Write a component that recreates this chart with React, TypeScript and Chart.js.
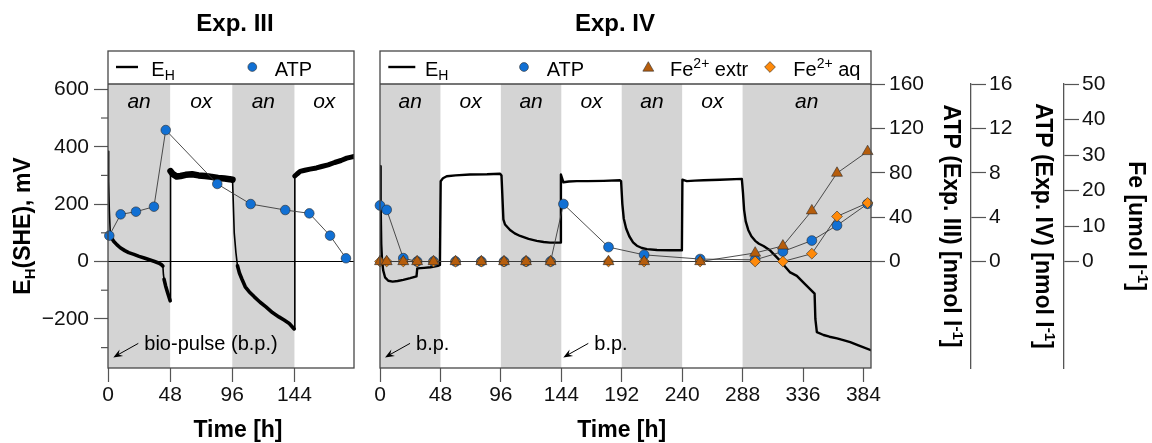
import React, { useEffect, useRef } from 'react';
import { Chart, registerables } from 'chart.js';

Chart.register(...registerables);

const FONT = "'Liberation Sans', Arial, Helvetica, sans-serif";
Chart.defaults.font.family = FONT;
Chart.defaults.color = '#111';

// ---------------- data: Exp. III ----------------
const timeTicksIII = [0, 48, 96, 144];
const phaseBoundsIII = [0, 48, 96, 144, 190];
const phaseNamesIII = ['an', 'ox', 'an', 'ox'];
const ehTimeIII = [0, 0.5, 1.0, 1.8, 3, 4.5, 7, 9.5, 13, 16, 20, 24, 28, 32, 36, 39, 41, 42.4, 42.8, 43.3, 44.5, 46, 48.0, 48.3, 50, 53, 56, 60, 65, 70, 75, 80, 85, 90, 94, 96.2, 97.5, 98.8, 100, 101.5, 103.4, 106, 109, 113, 117.5, 122, 127, 132, 136, 140, 143.8, 144.3, 146, 148.4, 152, 156, 161, 165, 170, 175, 180, 184.4, 187, 190];
const ehValueIII = [384, 280, 180, 95, 80, 70, 58, 48, 38, 31, 25, 18, 12, 6, 0, -5, -10, -16, -45, -62, -85, -108, -137, 315, 305, 296, 298, 302, 304, 300, 298, 295, 291, 289, 287, 285, 100, 31, -15, -40, -61, -88, -105, -123, -142, -158, -178, -193, -204, -216, -235, 298, 305, 314, 318, 322, 326, 331, 337, 345, 352, 360, 363, 366];
const atpTimeIII = [1.0, 9.8, 21.6, 35.5, 44.6, 84.4, 110.2, 136.9, 155.5, 171.5, 183.8];
const atpValueIII = [23.3, 42.5, 44.9, 49.4, 118.5, 69.9, 51.8, 46.4, 43.4, 23.3, 2.9];
const bioPulseIII = [4.1];

// ---------------- data: Exp. IV ----------------
const timeTicksIV = [0, 48, 96, 144, 192, 240, 288, 336, 384];
const phaseBoundsIV = [0, 48, 96, 144, 192, 240, 288, 390];
const phaseNamesIV = ['an', 'ox', 'an', 'ox', 'an', 'ox', 'an'];
const ehTimeIV = [0, 0.5, 1.0, 1.6, 2.5, 4, 6.6, 10, 14, 18.5, 24, 29, 29.6, 35, 40, 46, 47.6, 48.2, 50, 53, 60, 71.5, 85, 95.4, 96.5, 98, 99.3, 103.3, 107, 111.3, 118, 124.5, 130, 135, 143.2, 143.7, 145.7, 150, 156.3, 165, 177.5, 190.7, 191.5, 192.5, 193.6, 195.5, 198, 201, 204, 208, 212, 220, 230.5, 239.8, 240.2, 243.7, 250, 257, 270, 287.4, 288.3, 289.2, 290.5, 292.5, 295, 298, 301, 304.6, 310, 317.9, 325.8, 331.1, 337, 343, 345.2, 345.8, 347, 352.3, 357, 363, 368, 373.5, 380, 390];
const ehValueIV = [332, 200, 60, 5, -30, -55, -67, -70, -68, -64, -58, -52, -24, -22, -20, -15, -12, 280, 290, 297, 300, 303, 304, 306, 300, 147, 129, 110, 98, 89, 79, 72, 68, 66, 66, 303, 276, 279, 280, 280, 281, 283, 280, 200, 150, 115, 88, 67, 55, 47, 43, 40, 39, 39, 285, 280, 282, 283, 285, 288, 240, 180, 140, 110, 88, 72, 62, 54, 38, 2, -38, -50, -76, -102, -112, -200, -246, -256, -262, -268, -274, -281, -292, -309];
const atpTimeIV = [0, 5.3, 18.5, 29.5, 42.5, 60, 80.5, 98.5, 116, 135.5, 145.7, 181.5, 209.8, 254.3, 298, 320, 343, 363, 387.3];
const atpValueIV = [5.05, 4.66, 0.3, 0, 0, 0, 0, 0, 0, 0, 5.18, 1.3, 0.6, 0.22, 0.15, 0.9, 1.89, 3.25, 5.2];
const feTimeIV = [0, 5.3, 18.5, 29.5, 42.5, 60, 80.5, 98.5, 116, 135.5, 181.5, 209.8, 254.3, 298, 320, 343, 363, 387.3];
const feExtrIV = [0, 0, 0, 0, 0, 0, 0, 0, 0, 0, 0, 0, 0, 2.4, 4.4, 14.3, 24.9, 31.0];
const feAqIV = [0, 0, 0, 0, 0, 0, 0, 0, 0, 0, 0, 0, 0, 0, 0, 2.2, 12.7, 16.5];
const bioPulseIV = [4.0, 145.6];

// ---------------- axis ticks ----------------
const ehTicks = [-200, 0, 200, 400, 600];
const ehMinorTicks = [-300, -100, 100, 300, 500];
const atp3Ticks = [0, 40, 80, 120, 160];
const atp4Ticks = [0, 4, 8, 12, 16];
const feTicks = [0, 10, 20, 30, 40, 50];

// ---------------- style ----------------
const EH_MIN = -371, EH_MAX = 618.5;
const BP_LEVEL = -334;
const BLUE = '#1170d4';
const BROWN = '#b65d0c';
const ORANGE = '#ff8a0a';
const SHADE = '#d4d4d4';
const AXIS = '#555555';
const FRAME = '#474747';
const MARK_EDGE = '#2b2b2b';
const LEGEND_TOP = 51;

type Run = { t: string; size: number; bold?: boolean; italic?: boolean; dy?: number };

function fontOf(r: Run) {
  return `${r.italic ? 'italic ' : ''}${r.bold ? 'bold ' : ''}${r.size}px ${FONT}`;
}

function drawRich(ctx: CanvasRenderingContext2D, runs: Run[], x: number, y: number, align: 'left' | 'center', rotation = 0, color = '#000') {
  ctx.save();
  ctx.translate(x, y);
  if (rotation) ctx.rotate(rotation);
  ctx.textAlign = 'left';
  ctx.textBaseline = 'alphabetic';
  ctx.fillStyle = color;
  const widths = runs.map(r => { ctx.font = fontOf(r); return ctx.measureText(r.t).width; });
  const total = widths.reduce((a, b) => a + b, 0);
  let cx = align === 'center' ? -total / 2 : 0;
  runs.forEach((r, i) => {
    ctx.font = fontOf(r);
    ctx.fillText(r.t, cx, r.dy || 0);
    cx += widths[i];
  });
  ctx.restore();
}

function markerPath(ctx: CanvasRenderingContext2D, kind: string, x: number, y: number, r: number) {
  ctx.beginPath();
  if (kind === 'circle') ctx.arc(x, y, r, 0, Math.PI * 2);
  else if (kind === 'triangle') {
    ctx.moveTo(x, y - r);
    ctx.lineTo(x + 0.866 * r, y + 0.5 * r);
    ctx.lineTo(x - 0.866 * r, y + 0.5 * r);
    ctx.closePath();
  } else {
    ctx.moveTo(x - r, y);
    ctx.lineTo(x, y - r);
    ctx.lineTo(x + r, y);
    ctx.lineTo(x, y + r);
    ctx.closePath();
  }
}

type LegendItem = { kind: 'line' | 'circle' | 'triangle' | 'diamond'; at: number; len?: number; r?: number; color: string; textAt: number; runs: Run[] };

const E_H_RUNS: Run[] = [{ t: 'E', size: 20 }, { t: 'H', size: 14, dy: 4 }];
const ATP_RUNS: Run[] = [{ t: 'ATP', size: 20 }];
const FE_EXTR_RUNS: Run[] = [{ t: 'Fe', size: 20 }, { t: '2+', size: 14, dy: -7.5 }, { t: ' extr', size: 20 }];
const FE_AQ_RUNS: Run[] = [{ t: 'Fe', size: 20 }, { t: '2+', size: 14, dy: -7.5 }, { t: ' aq', size: 20 }];

interface PanelCfg {
  id: string;
  title: string;
  titleDx: number;
  xTitleDx: number;
  bounds: number[];
  names: string[];
  legend: LegendItem[];
  bioPulse: number[];
  bpText: string;
  leftTitle: boolean;
  rightTitles: { axis: string; fromRight: number; runs: Run[] }[];
}

function panelPlugin(p: PanelCfg) {
  return {
    id: 'panel_' + p.id,
    beforeDatasetsDraw(chart: any) {
      const { ctx, chartArea: ca, scales } = chart;
      const x = scales.x, y = scales.y;
      ctx.save();
      ctx.fillStyle = SHADE;
      for (let i = 0; i < p.names.length; i++) {
        if (p.names[i] !== 'an') continue;
        const x0 = Math.max(ca.left, x.getPixelForValue(p.bounds[i]));
        const x1 = Math.min(ca.right, x.getPixelForValue(p.bounds[i + 1]));
        ctx.fillRect(x0, ca.top, x1 - x0, ca.bottom - ca.top);
      }
      ctx.fillStyle = '#000';
      ctx.font = `italic 21px ${FONT}`;
      ctx.textAlign = 'center';
      ctx.textBaseline = 'alphabetic';
      for (let i = 0; i < p.names.length; i++) {
        const mid = (p.bounds[i] + p.bounds[i + 1]) / 2;
        ctx.fillText(p.names[i], x.getPixelForValue(mid), ca.top + 23.5);
      }
      const y0 = y.getPixelForValue(0);
      ctx.strokeStyle = '#000';
      ctx.lineWidth = 1.2;
      ctx.beginPath();
      ctx.moveTo(ca.left, y0);
      ctx.lineTo(ca.right, y0);
      ctx.stroke();
      ctx.restore();
    },
    afterDraw(chart: any) {
      const { ctx, chartArea: ca, scales } = chart;
      const x = scales.x, y = scales.y;
      ctx.save();
      // frame
      ctx.fillStyle = '#fff';
      ctx.fillRect(ca.left, LEGEND_TOP, ca.right - ca.left, ca.top - LEGEND_TOP);
      ctx.strokeStyle = FRAME;
      ctx.lineWidth = 1.3;
      ctx.strokeRect(ca.left, LEGEND_TOP, ca.right - ca.left, ca.bottom - LEGEND_TOP);
      ctx.beginPath();
      ctx.moveTo(ca.left, ca.top);
      ctx.lineTo(ca.right, ca.top);
      ctx.stroke();
      // legend
      const ly = 67;
      for (const it of p.legend) {
        const lx = ca.left + it.at;
        if (it.kind === 'line') {
          ctx.strokeStyle = '#000';
          ctx.lineWidth = 2.4;
          ctx.beginPath();
          ctx.moveTo(lx, ly);
          ctx.lineTo(lx + (it.len || 22), ly);
          ctx.stroke();
        } else {
          markerPath(ctx, it.kind, lx, ly + (it.kind === 'triangle' ? 1 : 0), it.r || 4.5);
          ctx.fillStyle = it.color;
          ctx.fill();
          ctx.lineWidth = 0.6;
          ctx.strokeStyle = MARK_EDGE;
          ctx.stroke();
        }
        drawRich(ctx, it.runs, ca.left + it.textAt, 75.5, 'left');
      }
      // panel title
      drawRich(ctx, [{ t: p.title, size: 24, bold: true }], ca.left + p.titleDx, 31, 'center');
      // x title
      drawRich(ctx, [{ t: 'Time [h]', size: 23, bold: true }], ca.left + p.xTitleDx, 437, 'center');
      // y titles
      const cy = (ca.top + ca.bottom) / 2;
      if (p.leftTitle) {
        drawRich(ctx, [{ t: 'E', size: 23, bold: true }, { t: 'H', size: 15, bold: true, dy: 5 }, { t: '(SHE), mV', size: 23, bold: true }], 30, cy, 'center', -Math.PI / 2);
        // minor ticks on E_H axis
        ctx.strokeStyle = AXIS;
        ctx.lineWidth = 1.2;
        for (const v of ehMinorTicks) {
          const py = y.getPixelForValue(v);
          ctx.beginPath();
          ctx.moveTo(ca.left - 7, py);
          ctx.lineTo(ca.left, py);
          ctx.stroke();
        }
      }
      for (const rt of p.rightTitles) {
        const s = scales[rt.axis];
        drawRich(ctx, rt.runs, s.right - rt.fromRight, cy, 'center', Math.PI / 2);
      }
      // bio-pulse notes
      for (const t of p.bioPulse) {
        const tx = x.getPixelForValue(t);
        const ty = y.getPixelForValue(BP_LEVEL);
        const sx = tx + 25, sy = ty - 14;
        ctx.strokeStyle = '#000';
        ctx.lineWidth = 1;
        ctx.beginPath();
        ctx.moveTo(sx, sy);
        ctx.lineTo(tx + 3, ty - 1.7);
        ctx.stroke();
        const ang = Math.atan2(ty - sy, tx - sx);
        const L = 10, w = 0.38;
        ctx.fillStyle = '#000';
        ctx.beginPath();
        ctx.moveTo(tx, ty);
        ctx.lineTo(tx - L * Math.cos(ang - w), ty - L * Math.sin(ang - w));
        ctx.lineTo(tx - 0.6 * L * Math.cos(ang), ty - 0.6 * L * Math.sin(ang));
        ctx.lineTo(tx - L * Math.cos(ang + w), ty - L * Math.sin(ang + w));
        ctx.closePath();
        ctx.fill();
        drawRich(ctx, [{ t: p.bpText, size: 20 }], tx + 31, ty - 7.3, 'left');
      }
      ctx.restore();
    },
  };
}

function ehWidthFactory(widthAt: (t: number) => number) {
  return (c: any) => {
    const a = c.p0.parsed, b = c.p1.parsed;
    const slope = Math.abs(b.y - a.y) / Math.max(1e-6, b.x - a.x);
    if (slope > 30) return 1.6;
    return widthAt(a.x);
  };
}

function fixedTicks(list: number[]) {
  return (s: any) => { s.ticks = list.map(v => ({ value: v })); };
}

function xAxis(max: number, ticks: number[]) {
  return {
    type: 'linear', position: 'bottom', min: 0, max,
    afterBuildTicks: fixedTicks(ticks),
    afterFit: (s: any) => { s.height = 75; },
    ticks: { font: { size: 21 }, color: '#111', padding: 1, maxRotation: 0, autoSkip: false, callback: (v: any) => String(v) },
    grid: { drawOnChartArea: false, drawTicks: true, tickLength: 14, tickColor: AXIS, tickWidth: 1.2 },
    border: { display: false },
  };
}

function rightAxis(weight: number, min: number, max: number, ticks: number[], width: number, tickLen: number, pad: number, border: boolean) {
  return {
    type: 'linear', position: 'right', weight, min, max,
    afterBuildTicks: fixedTicks(ticks),
    afterFit: (s: any) => { s.width = width; },
    ticks: { font: { size: 21 }, color: '#111', padding: pad, callback: (v: any) => String(v) },
    grid: { drawOnChartArea: false, drawTicks: true, tickLength: tickLen, tickColor: AXIS, tickWidth: 1.2 },
    border: { display: border, color: AXIS, width: 1.3 },
  };
}

function pts(ts: number[], vs: number[]) {
  return ts.map((t, i) => ({ x: t, y: vs[i] }));
}

function markerSet(label: string, data: any[], axis: string, style: string, r: number, color: string, order: number) {
  return {
    label, data, yAxisID: axis, order,
    borderColor: '#3a3a3a', borderWidth: 0.9,
    pointStyle: style, pointRadius: r, pointBackgroundColor: color,
    pointBorderColor: MARK_EDGE, pointBorderWidth: 0.6,
    clip: false, tension: 0,
  };
}

const commonOptions = {
  responsive: false,
  animation: false,
  devicePixelRatio: 1,
  events: [],
  plugins: { legend: { display: false }, tooltip: { enabled: false }, title: { display: false } },
};

function configIII(): any {
  const panel: PanelCfg = {
    id: 'III', title: 'Exp. III', titleDx: 127, xTitleDx: 130,
    bounds: phaseBoundsIII, names: phaseNamesIII,
    legend: [
      { kind: 'line', at: 8, len: 22, color: '#000', textAt: 43.3, runs: E_H_RUNS },
      { kind: 'circle', at: 144.3, r: 4.4, color: BLUE, textAt: 166.7, runs: ATP_RUNS },
    ],
    bioPulse: bioPulseIII, bpText: 'bio-pulse (b.p.)', leftTitle: true, rightTitles: [],
  };
  return {
    type: 'line',
    data: {
      datasets: [
        markerSet('ATP', pts(atpTimeIII, atpValueIII), 'atp3', 'circle', 4.8, BLUE, 1),
        {
          label: 'E_H', data: pts(ehTimeIII, ehValueIII), yAxisID: 'y', order: 2,
          borderColor: '#000', borderWidth: 3.6, pointRadius: 0, tension: 0,
          borderJoinStyle: 'round', borderCapStyle: 'round',
          segment: { borderWidth: ehWidthFactory(t => (t >= 48 && t < 96 ? 6.5 : t >= 144 ? 5 : 3.6)) },
        },
      ],
    },
    options: {
      ...commonOptions,
      layout: { padding: { left: 0, top: 84, right: 16, bottom: 0 } },
      scales: {
        x: xAxis(190, timeTicksIII),
        y: {
          type: 'linear', position: 'left', min: EH_MIN, max: EH_MAX,
          afterBuildTicks: fixedTicks(ehTicks),
          afterFit: (s: any) => { s.width = 108; },
          ticks: { font: { size: 21 }, color: '#111', padding: 5, callback: (v: any) => (v < 0 ? '\u2212' + Math.abs(v) : String(v)) },
          grid: { drawOnChartArea: false, drawTicks: true, tickLength: 14, tickColor: AXIS, tickWidth: 1.2 },
          border: { display: false },
        },
        atp3: { type: 'linear', display: false, min: -96, max: 160 },
      },
    },
    plugins: [panelPlugin(panel)],
  };
}

function configIV(): any {
  const panel: PanelCfg = {
    id: 'IV', title: 'Exp. IV', titleDx: 235, xTitleDx: 241.7,
    bounds: phaseBoundsIV, names: phaseNamesIV,
    legend: [
      { kind: 'line', at: 8.3, len: 27, color: '#000', textAt: 45, runs: E_H_RUNS },
      { kind: 'circle', at: 144, r: 4.4, color: BLUE, textAt: 166.7, runs: ATP_RUNS },
      { kind: 'triangle', at: 268.3, r: 6.3, color: BROWN, textAt: 290, runs: FE_EXTR_RUNS },
      { kind: 'diamond', at: 390, r: 5.4, color: ORANGE, textAt: 413.3, runs: FE_AQ_RUNS },
    ],
    bioPulse: bioPulseIV, bpText: 'b.p.', leftTitle: false,
    rightTitles: [
      { axis: 'atp3', fromRight: 27, runs: [{ t: 'ATP (Exp. III) [nmol l', size: 23, bold: true }, { t: '-1', size: 15, bold: true, dy: -9 }, { t: ']', size: 23, bold: true }] },
      { axis: 'atp4', fromRight: 28, runs: [{ t: 'ATP (Exp. IV) [nmol l', size: 23, bold: true }, { t: '-1', size: 15, bold: true, dy: -9 }, { t: ']', size: 23, bold: true }] },
      { axis: 'fe', fromRight: 23, runs: [{ t: 'Fe [umol l', size: 23, bold: true }, { t: '-1', size: 15, bold: true, dy: -9 }, { t: ']', size: 23, bold: true }] },
    ],
  };
  return {
    type: 'line',
    data: {
      datasets: [
        markerSet('Fe2+ extr', pts(feTimeIV, feExtrIV), 'fe', 'triangle', 6.3, BROWN, 1),
        markerSet('Fe2+ aq', pts(feTimeIV, feAqIV), 'fe', 'rectRot', 5.4, ORANGE, 2),
        markerSet('ATP', pts(atpTimeIV, atpValueIV), 'atp4', 'circle', 4.9, BLUE, 3),
        {
          label: 'E_H', data: pts(ehTimeIV, ehValueIV), yAxisID: 'y', order: 4,
          borderColor: '#000', borderWidth: 2.4, pointRadius: 0, tension: 0,
          borderJoinStyle: 'round', borderCapStyle: 'round',
        },
      ],
    },
    options: {
      ...commonOptions,
      layout: { padding: { left: 20, top: 84, right: 0, bottom: 0 } },
      scales: {
        x: xAxis(390, timeTicksIV),
        y: { type: 'linear', display: false, min: EH_MIN, max: EH_MAX },
        atp3: rightAxis(1, -96, 160, atp3Ticks, 100, 14, 4, false),
        atp4: rightAxis(2, -9.6, 16, atp4Ticks, 93, 15, 3, true),
        fe: rightAxis(3, -30, 50, feTicks, 88, 15, 3, true),
      },
    },
    plugins: [panelPlugin(panel)],
  };
}

export default function App() {
  const leftRef = useRef<HTMLCanvasElement>(null);
  const rightRef = useRef<HTMLCanvasElement>(null);
  useEffect(() => {
    const c1 = new Chart(leftRef.current as HTMLCanvasElement, configIII());
    const c2 = new Chart(rightRef.current as HTMLCanvasElement, configIV());
    return () => { c1.destroy(); c2.destroy(); };
  }, []);
  return (
    <div style={{ position: 'absolute', left: 0, top: 0, width: 1152, height: 443, background: '#fff', overflow: 'hidden' }}>
      <canvas ref={leftRef} width={370} height={443} style={{ position: 'absolute', left: 0, top: 0, width: 370, height: 443 }} />
      <canvas ref={rightRef} width={792} height={443} style={{ position: 'absolute', left: 360, top: 0, width: 792, height: 443 }} />
    </div>
  );
}
